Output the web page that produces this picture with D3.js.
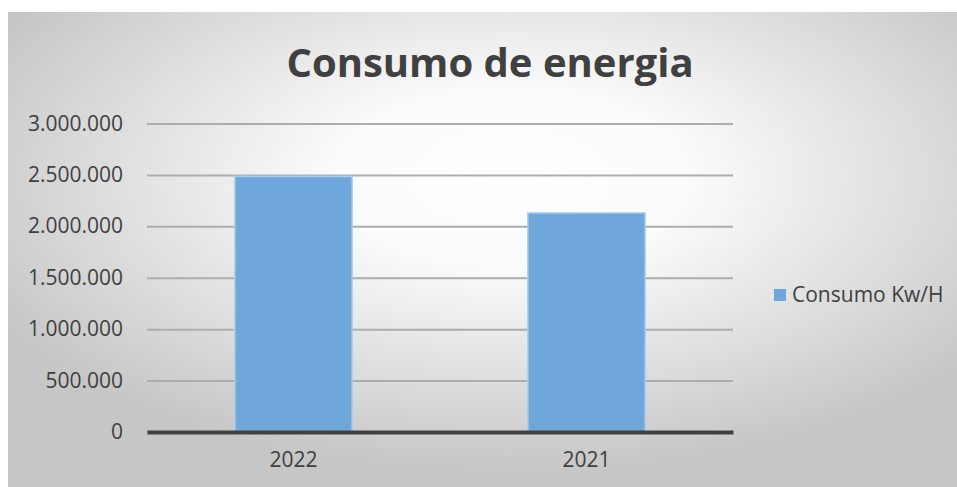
<!DOCTYPE html>
<html>
<head>
<meta charset="utf-8">
<script src="https://cdn.jsdelivr.net/npm/d3@7"></script>
<style>
  body { margin: 0; background: #fff; }
  text { font-family: "Open Sans", sans-serif; fill: #404040; }
</style>
</head>
<body>
<div id="graf"></div>
<script>
const years = ["2022", "2021"]
const consumo = [2485000, 2130000]
const yTicks = [0, 500000, 1000000, 1500000, 2000000, 2500000, 3000000]
const serieName = "Consumo Kw/H"

const anchoTotal = 957
const altoTotal = 487
const margins = { left: 147, top: 123.5, right: 224, bottom: 55 }
const ancho = anchoTotal - margins.left - margins.right
const alto = altoTotal - margins.top - margins.bottom

const svg = d3.select("#graf")
  .append("svg")
  .attr("width", anchoTotal)
  .attr("height", altoTotal)

const grad = svg.append("defs")
  .append("radialGradient")
  .attr("id", "fondo")
  .attr("cx", "0.53")
  .attr("cy", "0.35")
  .attr("r", "0.62")
grad.append("stop").attr("offset", "0").attr("stop-color", "#ffffff")
grad.append("stop").attr("offset", "0.3").attr("stop-color", "#fbfbfb")
grad.append("stop").attr("offset", "1").attr("stop-color", "#c6c6c6")

svg.append("rect")
  .attr("x", 8)
  .attr("y", 12)
  .attr("width", anchoTotal - 8)
  .attr("height", altoTotal - 12)
  .attr("fill", "url(#fondo)")

svg.append("text")
  .attr("x", 490)
  .attr("y", 77)
  .attr("text-anchor", "middle")
  .attr("font-size", 40)
  .attr("font-weight", "bold")
  .text("Consumo de energia")

const g = svg.append("g")
  .attr("transform", `translate(${margins.left}, ${margins.top})`)

const x = d3.scaleBand().domain(years).range([0, ancho]).paddingInner(0.6).paddingOuter(0.3)
const y = d3.scaleLinear().domain([0, 3000000]).range([alto, 0])
const fmt = (d) => d3.format(",")(d).replace(/,/g, ".")

// grid
g.append("g")
  .call(d3.axisLeft(y).tickValues(yTicks).tickSize(-ancho).tickFormat(""))
  .call((s) => s.select(".domain").remove())
  .call((s) => s.selectAll("line").attr("stroke", "#adadad").attr("stroke-width", 2))

g.selectAll(".lbl")
  .data(yTicks)
  .enter()
  .append("text")
  .attr("class", "lbl")
  .attr("x", -24)
  .attr("y", (d) => y(d) + 7)
  .attr("text-anchor", "end")
  .attr("font-size", 21)
  .text(fmt)

g.selectAll(".bar")
  .data(consumo)
  .enter()
  .append("rect")
  .attr("class", "bar")
  .attr("x", (d, i) => x(years[i]))
  .attr("y", (d) => y(d))
  .attr("width", x.bandwidth())
  .attr("height", (d) => alto - y(d))
  .attr("fill", "#6fa7db")
  .attr("stroke", "#a9cdee")
  .attr("stroke-width", 1.5)

const xAxis = g.append("g")
  .attr("transform", `translate(0, ${alto})`)
  .call(d3.axisBottom(x).tickSize(0).tickPadding(20))
xAxis.select(".domain").attr("stroke", "#404040").attr("stroke-width", 4)
xAxis.selectAll("text").attr("font-size", 21).attr("fill", "#404040")

const legend = svg.append("g").attr("transform", "translate(774, 289)")
legend.append("rect")
  .attr("width", 12)
  .attr("height", 12)
  .attr("fill", "#6fa7db")
legend.append("text")
  .attr("x", 18)
  .attr("y", 13)
  .attr("font-size", 21)
  .text(serieName)
</script>
</body>
</html>
